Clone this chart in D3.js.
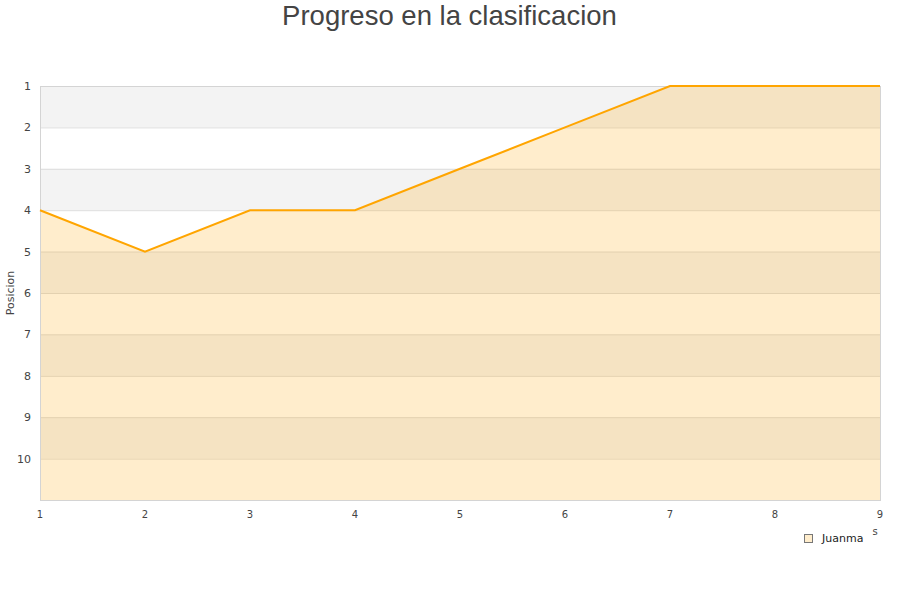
<!DOCTYPE html>
<html><head><meta charset="utf-8">
<script src="https://cdn.jsdelivr.net/npm/d3@7"></script>
<style>body{margin:0;background:#fff;}svg{display:block;}</style>
</head><body>
<svg id="c" width="900" height="600"></svg>
<script>
const title = "Progreso en la clasificacion";
const yTitle = "Posicion";
const seriesName = "Juanma";
const jornadas = [1,2,3,4,5,6,7,8,9];
const posiciones = [4,5,4,4,3,2,1,1,1];
const yTicks = [1,2,3,4,5,6,7,8,9,10];

const svg = d3.select("#c");
const m = {l:40, r:880, t:86, b:500};
const x = d3.scaleLinear().domain([1,9]).range([m.l, m.r]);
const y = d3.scaleLinear().domain([1,11]).range([m.t, m.b]);

// alternating bands
const bands = d3.range(1,11);
svg.selectAll("rect.band").data(bands).join("rect")
  .attr("x", m.l).attr("width", m.r-m.l)
  .attr("y", d=>y(d)).attr("height", d=>y(d+1)-y(d))
  .attr("fill", d => d%2===1 ? "#f3f3f3" : "#ffffff");

// gridlines
svg.selectAll("line.grid").data(yTicks.slice(1).concat([11])).join("line")
  .attr("x1", m.l).attr("x2", m.r)
  .attr("y1", d=>y(d)+0.5).attr("y2", d=>y(d)+0.5)
  .attr("stroke", "#dddddd").attr("stroke-width",1);

// area
const pts = jornadas.map((j,i)=>[j,posiciones[i]]);
svg.append("path").datum(pts)
  .attr("d", d3.area().x(d=>x(d[0])).y0(y(11)).y1(d=>y(d[1])))
  .attr("fill", "#ffa500").attr("fill-opacity", 0.2);

// border
svg.append("rect").attr("x", m.l+0.5).attr("y", m.t+0.5)
  .attr("width", m.r-m.l).attr("height", m.b-m.t)
  .attr("fill","none").attr("stroke","#d4d4d4");

// line
svg.append("path").datum(pts)
  .attr("d", d3.line().x(d=>x(d[0])).y(d=>y(d[1])))
  .attr("fill","none").attr("stroke","#ffa500").attr("stroke-width",2);

// y labels
svg.selectAll("text.yl").data(yTicks).join("text")
  .attr("x", 31).attr("y", d=>y(d)+4).attr("text-anchor","end")
  .attr("font-family","DejaVu Sans, sans-serif").attr("font-size",11).attr("fill","#444")
  .text(d=>d);

// x labels
svg.selectAll("text.xl").data(jornadas).join("text")
  .attr("x", d=>x(d)).attr("y", 518).attr("text-anchor","middle")
  .attr("font-family","DejaVu Sans, sans-serif").attr("font-size",10).attr("fill","#444")
  .text(d=>d);

// y title
svg.append("text").attr("transform","translate(14,293) rotate(-90)")
  .attr("text-anchor","middle").attr("font-family","DejaVu Sans, sans-serif")
  .attr("font-size",11).attr("fill","#444").text(yTitle);

// title
svg.append("text").attr("x",449.5).attr("y",25).attr("text-anchor","middle")
  .attr("font-family","Liberation Sans, Arial, sans-serif").attr("font-size",27.5)
  .attr("fill","#444").text(title);

// fragment of clipped text
svg.append("text").attr("x",875).attr("y",535).attr("text-anchor","middle")
  .attr("font-family","DejaVu Sans, sans-serif").attr("font-size",10).attr("fill","#444").text("s");

// legend
svg.append("rect").attr("x",804.5).attr("y",534.5).attr("width",8).attr("height",8)
  .attr("fill","#ffedcc").attr("stroke","#777");
svg.append("text").attr("x",822).attr("y",542)
  .attr("font-family","DejaVu Sans, sans-serif").attr("font-size",11).attr("fill","#222").text(seriesName);
</script>
</body></html>
